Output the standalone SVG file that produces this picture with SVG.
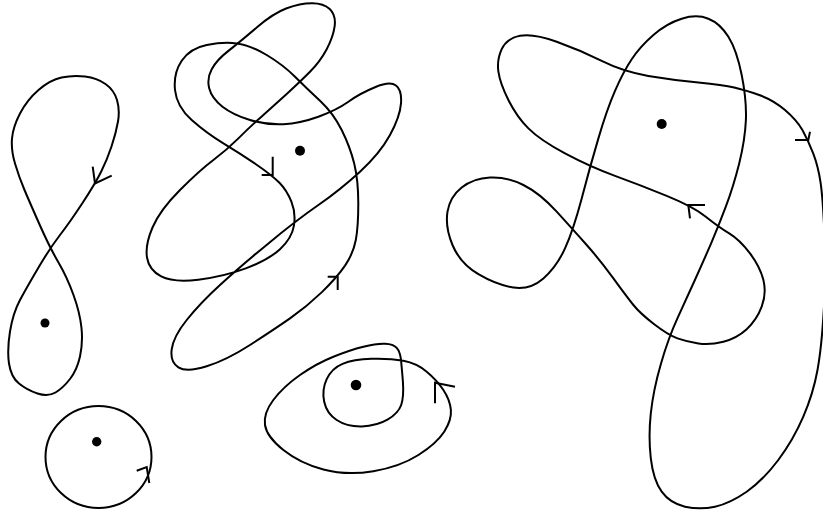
<svg xmlns="http://www.w3.org/2000/svg" width="823" height="516" viewBox="0 0 823 516">
<style>
.c{fill:none;stroke:#000;stroke-width:2;stroke-linejoin:round;stroke-linecap:round}
.a{fill:none;stroke:#000;stroke-width:2;stroke-linecap:butt;stroke-linejoin:miter}
.d{fill:#000}
</style>
<rect width="823" height="516" fill="#fff"/>
<g id="figure-eight">
<path class="c" d="M 60,235 Q 70,222 82.5,203 Q 95,184 101,172 Q 107,160 111.5,146.5 Q 116,133 118,121.5 Q 120,110 117,100 Q 114,90 105.5,84 Q 97,78 85,76.5 Q 73,75 61.5,77.5 Q 50,80 38.5,90 Q 27,100 20,113.5 Q 13,127 12,138.5 Q 11,150 15,163.5 Q 19,177 24.5,190 Q 30,203 40,225.5 Q 50,248 58.5,262.5 Q 67,277 73.5,295 Q 80,313 81.5,328 Q 83,343 80,356.5 Q 77,370 70,379 Q 63,388 55.5,392.5 Q 48,397 37.5,393.5 Q 27,390 19,383.5 Q 11,377 9,363.5 Q 7,350 10,331.5 Q 13,313 20,300 Q 27,287 38.5,267.5 Q 50,248 60,235 Z"/>
<path class="a" d="M 92.7,166.7 L 95,183.5 L 111.7,175.7"/>
<circle class="d" cx="45" cy="323" r="4.5"/>
</g>
<g id="circle">
<ellipse class="c" cx="98.5" cy="457" rx="53" ry="51"/>
<path class="a" d="M 136.7,470.7 L 146.7,467 L 149.3,483"/>
<circle class="d" cx="96.7" cy="441.7" r="4.7"/>
</g>
<g id="tangle">
<path class="c" d="M 279.2,182.5 Q 286.7,190 291.4,201.7 Q 296,213.3 293.9,225.8 Q 291.7,238.3 280,249.2 Q 268.3,260 245.8,268.4 Q 223.3,276.7 198.3,279.7 Q 173.3,282.7 161.2,276.4 Q 149,270 147,257.5 Q 145,245 152.5,227.5 Q 160,210 180,190 Q 200,170 213.4,160 Q 226.7,150 238.4,138.4 Q 250,126.7 261.7,116.4 Q 273.3,106 286.7,93.9 Q 300,81.7 310,71.7 Q 320,61.7 326.7,49.2 Q 333.3,36.7 334.7,25.9 Q 336,15 329.7,9 Q 323.3,3 311.7,3.2 Q 300,3.3 286.7,8.3 Q 273.3,13.3 256.7,27.5 Q 240,41.7 228.4,50.9 Q 216.7,60 211.7,69.2 Q 206.7,78.3 209.2,88.3 Q 211.7,98.3 222.5,106.7 Q 233.3,115 250,120 Q 266.7,125 283.4,124.2 Q 300,123.3 318.4,116.7 Q 336.7,110 348.4,101.7 Q 360,93.3 375,87.2 Q 390,81 396,85.5 Q 402,90 401,103.4 Q 400,116.7 390,135 Q 380,153.3 360,171.7 Q 340,190 318.4,205 Q 296.7,220 268.4,243.4 Q 240,266.7 220,285 Q 200,303.3 186.7,320 Q 173.3,336.7 171.7,349.4 Q 170,362 178.4,367.3 Q 186.7,372.5 206.7,366.3 Q 226.7,360 250,345 Q 273.3,330 290,318.4 Q 306.7,306.7 321.9,292.1 Q 337,277.5 345.2,265.4 Q 353.3,253.3 355.8,240 Q 358.3,226.7 358.3,203.4 Q 358.3,180 354.2,163.4 Q 350,146.7 341.7,130 Q 333.3,113.3 320,100.8 Q 306.7,88.3 295,76.7 Q 283.3,65 266.7,55 Q 250,45 236.7,43.4 Q 223.3,41.7 206.7,45 Q 190,48.3 181.7,60.8 Q 173.3,73.3 175,90 Q 176.7,106.7 191.7,120 Q 206.7,133.3 223.4,143.3 Q 240,153.3 255.9,164.2 Q 271.7,175 279.2,182.5 Z"/>
<path class="a" d="M 272.7,156.7 L 272.7,175 L 261.7,175"/>
<path class="a" d="M 327.7,276.7 L 337.7,276.7 L 337.7,290"/>
<circle class="d" cx="300" cy="150.7" r="5"/>
</g>
<g id="loop">
<path class="c" d="M 323.4,469.5 Q 300,463.3 283.4,450 Q 266.7,436.7 265,425 Q 263.3,413.3 273.3,400 Q 283.3,386.7 300,375 Q 316.7,363.3 333.4,356.7 Q 350,350 363.4,346.7 Q 376.7,343.3 385,343.7 Q 393.3,344 396.7,347.9 Q 400,351.7 400.9,359.2 Q 401.7,366.7 402.9,381.7 Q 404,396.7 401.2,405 Q 398.3,413.3 387.5,419.7 Q 376.7,426 361.7,426.4 Q 346.7,426.7 336.7,420 Q 326.7,413.3 324.2,401.7 Q 321.7,390 326.7,379.2 Q 331.7,368.3 342.5,363.8 Q 353.3,359.3 371.7,358.8 Q 390,358.3 403.4,360.8 Q 416.7,363.3 426.7,371.7 Q 436.7,380 443.4,390 Q 450,400 450.9,410 Q 451.7,420 444.2,431.7 Q 436.7,443.3 418.4,455 Q 400,466.7 373.4,471.2 Q 346.7,475.7 323.4,469.5 Z"/>
<path class="a" d="M 455,386.7 L 435,382.7 L 435,403.3"/>
<circle class="d" cx="356" cy="385" r="5.3"/>
</g>
<g id="knot">
<path class="c" d="M 501.7,49.2 Q 506.7,38.3 520,35.8 Q 533.3,33.3 556.7,41.7 Q 580,50 601.7,60.9 Q 623.3,71.7 648.3,75.9 Q 673.3,80 698.3,82.5 Q 723.3,85 734.2,87.5 Q 745,90 759.2,95 Q 773.3,100 785,110 Q 796.7,120 802.4,130 Q 808,140 813.2,153.4 Q 818.3,166.7 820.7,183.4 Q 823,200 824.5,235 Q 826,270 823.9,308.4 Q 821.7,346.7 817.5,370 Q 813.3,393.3 803.3,416.7 Q 793.3,440 778.3,460 Q 763.3,480 746.7,491.7 Q 730,503.3 715,506.7 Q 700,510 685,506.7 Q 670,503.3 661.7,491.7 Q 653.3,480 650.8,458.4 Q 648.3,436.7 650.8,413.4 Q 653.3,390 660.8,364.2 Q 668.3,338.3 677.5,318.2 Q 686.7,298 694.9,280 Q 703,262 710.7,244.4 Q 718.3,226.7 725.8,206.7 Q 733.3,186.7 739.2,163.4 Q 745,140 745.9,120 Q 746.7,100 741.7,75 Q 736.7,50 728.4,36.7 Q 720,23.3 708.4,18.7 Q 696.7,14 681.7,18.7 Q 666.7,23.3 653.4,35 Q 640,46.7 631.7,59.2 Q 623.3,71.7 615,90.9 Q 606.7,110 598.4,138.4 Q 590,166.7 581.7,198.4 Q 573.3,230 565,248.4 Q 556.7,266.7 543.4,278.4 Q 530,290 513.4,287.5 Q 496.7,285 478.4,274.2 Q 460,263.3 452.5,245 Q 445,226.7 447.5,211.7 Q 450,196.7 461.7,187.5 Q 473.3,178.3 490,177.5 Q 506.7,176.7 523.4,185 Q 540,193.3 556.7,211.7 Q 573.3,230 586.7,245 Q 600,260 613.4,278.4 Q 626.7,296.7 633.4,305 Q 640,313.3 654.2,324.2 Q 668.3,335 677.5,338.4 Q 686.7,341.7 698.4,343.4 Q 710,345 723.4,341.7 Q 736.7,338.3 746.7,329.2 Q 756.7,320 761.7,306.7 Q 766.7,293.3 763.4,280 Q 760,266.7 750,253.4 Q 740,240 729.2,233.4 Q 718.3,226.7 705.8,216.7 Q 693.3,206.7 666.7,195.9 Q 640,185 615,175.9 Q 590,166.7 565,153.4 Q 540,140 528.4,128.4 Q 516.7,116.7 508.4,100 Q 500,83.3 498.4,71.7 Q 496.7,60 501.7,49.2 Z"/>
<path class="a" d="M 795,140 L 808.3,140 L 810,131.7"/>
<path class="a" d="M 705,205 L 688.3,205 L 690,218.3"/>
<circle class="d" cx="661.7" cy="124" r="5"/>
</g>
<g id="connectors"/>
</svg>
